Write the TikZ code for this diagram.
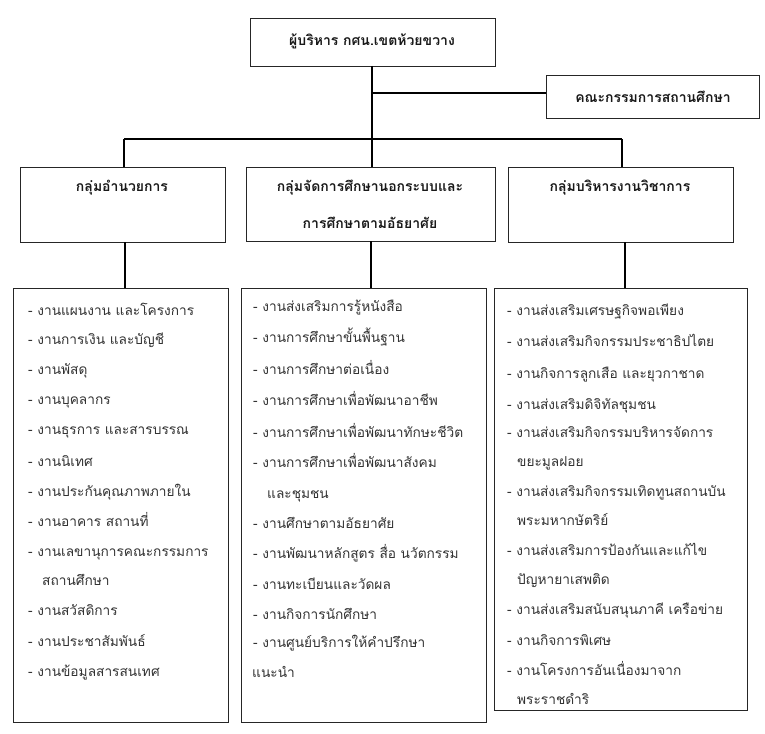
\documentclass[tikz,border=0pt]{standalone}
\usepackage{fontspec}
\newfontfamily\thai[Script=Thai]{Loma}
\begin{document}
\begin{tikzpicture}[x=1pt,y=-1pt,
  box/.style={draw=black!85,line width=0.9pt},
  conn/.style={draw=black,line width=1.3pt},
  head/.style={font=\thai\bfseries\fontsize{14}{16}\selectfont,text=black!90,inner sep=0pt},
  item/.style={font=\thai\fontsize{13.7}{15}\selectfont,text=black!80,anchor=base west,inner sep=0pt}]
\useasboundingbox (0,0) rectangle (765,733);
\fill[white] (0,0) rectangle (765,733);
% boxes
\draw[box] (250,18) rectangle (495,66);
\node[head] (top) at (372,41) {ผู้บริหาร กศน.เขตห้วยขวาง};
\coordinate (topb) at (372,66);
\draw[box] (546,75) rectangle (759,118);
\node[head] (com) at (653,97) {คณะกรรมการสถานศึกษา};
\coordinate (coml) at (546,93);
\draw[box] (20,167) rectangle (225,242);
\draw[box] (246,167) rectangle (495,241);
\draw[box] (508,167) rectangle (733,242);
\node[head] (g1) at (122,188) {กลุ่มอำนวยการ};
\node[head] (g2) at (370,188) {กลุ่มจัดการศึกษานอกระบบและ};
\node[head] (g2b) at (370,223) {การศึกษาตามอัธยาศัย};
\node[head] (g3) at (620,188) {กลุ่มบริหารงานวิชาการ};
\draw[box] (13,288) rectangle (228,722);
\draw[box] (241,288) rectangle (486,722);
\draw[box] (494,288) rectangle (747,710);
% connectors
\coordinate (j1) at (372,93);
\coordinate (bus) at (372,139);
\coordinate (busl) at (124,139);
\coordinate (busr) at (622,139);
\draw[conn] (topb) -- (bus);
\draw[conn] (j1) -- (coml);
\draw[conn] (busl) -- (busr);
\draw[conn] (busl) -- (124,167);
\draw[conn] (bus) -- (372,167);
\draw[conn] (busr) -- (622,167);
\draw[conn] (125,242) -- (125,288);
\draw[conn] (371,241) -- (371,288);
\draw[conn] (625,242) -- (625,288);
% left list
\foreach \t/\xx/\yy [count=\i] in {
 {- งานแผนงาน และโครงการ}/28/310,
 {- งานการเงิน และบัญชี}/28/339,
 {- งานพัสดุ}/28/369,
 {- งานบุคลากร}/28/399,
 {- งานธุรการ และสารบรรณ}/28/429,
 {- งานนิเทศ}/28/461,
 {- งานประกันคุณภาพภายใน}/28/491,
 {- งานอาคาร สถานที่}/28/521,
 {- งานเลขานุการคณะกรรมการ}/28/551,
 {สถานศึกษา}/42/580,
 {- งานสวัสดิการ}/28/610,
 {- งานประชาสัมพันธ์}/28/641,
 {- งานข้อมูลสารสนเทศ}/28/671}
 \node[item] (a\i) at (\xx,\yy+5) {\t};
% center list
\foreach \t/\xx/\yy [count=\i] in {
 {- งานส่งเสริมการรู้หนังสือ}/253/306,
 {- งานการศึกษาขั้นพื้นฐาน}/253/337,
 {- งานการศึกษาต่อเนื่อง}/253/369,
 {- งานการศึกษาเพื่อพัฒนาอาชีพ}/253/400,
 {- งานการศึกษาเพื่อพัฒนาทักษะชีวิต}/253/432,
 {- งานการศึกษาเพื่อพัฒนาสังคม}/253/462,
 {และชุมชน}/267/493,
 {- งานศึกษาตามอัธยาศัย}/253/523,
 {- งานพัฒนาหลักสูตร สื่อ นวัตกรรม}/253/553,
 {- งานทะเบียนและวัดผล}/253/584,
 {- งานกิจการนักศึกษา}/253/614,
 {- งานศูนย์บริการให้คำปรึกษา}/253/642,
 {แนะนำ}/252/672}
 \node[item] (b\i) at (\xx,\yy+5) {\t};
% right list
\foreach \t/\xx/\yy [count=\i] in {
 {- งานส่งเสริมเศรษฐกิจพอเพียง}/507/310,
 {- งานส่งเสริมกิจกรรมประชาธิปไตย}/507/341,
 {- งานกิจการลูกเสือ และยุวกาชาด}/507/373,
 {- งานส่งเสริมดิจิทัลชุมชน}/507/404,
 {- งานส่งเสริมกิจกรรมบริหารจัดการ}/507/432,
 {ขยะมูลฝอย}/517/461,
 {- งานส่งเสริมกิจกรรมเทิดทูนสถานบัน}/507/491,
 {พระมหากษัตริย์}/517/520,
 {- งานส่งเสริมการป้องกันและแก้ไข}/507/550,
 {ปัญหายาเสพติด}/517/579,
 {- งานส่งเสริมสนับสนุนภาคี เครือข่าย}/507/609,
 {- งานกิจการพิเศษ}/507/640,
 {- งานโครงการอันเนื่องมาจาก}/507/670,
 {พระราชดำริ}/517/699}
 \node[item] (c\i) at (\xx,\yy+5) {\t};
\end{tikzpicture}
\end{document}
